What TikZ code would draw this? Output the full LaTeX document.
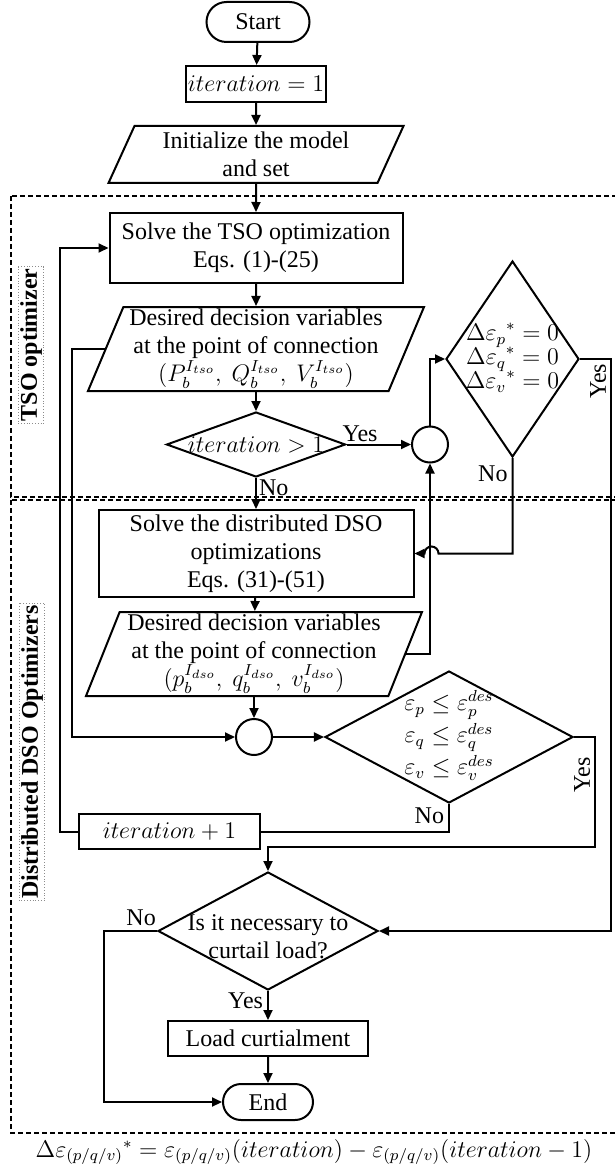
\documentclass[tikz,border=0pt]{standalone}
\usepackage{amsmath, amssymb}
\usepackage{fontspec}
\setmainfont{Liberation Serif}
\usetikzlibrary{positioning, arrows.meta, shapes.geometric, shapes.misc, calc}
\definecolor{FrameGray}{RGB}{140,140,140}
\tikzset{
  terminal/.style={rounded rectangle, draw, minimum height=18pt, inner sep=1pt},
  process/.style={rectangle, draw, align=center, inner sep=1pt},
  io/.style={trapezium, trapezium stretches body, draw, align=center, inner sep=1pt},
  decision/.style={diamond, draw, inner sep=0pt},
  junction/.style={circle, draw, minimum size=18pt, inner sep=0pt},
  flow/.style={-{Triangle[length=5pt,width=4.5pt]}},
  region/.style={dash pattern=on 2.5pt off 1.5pt, line width=1.1pt},
  region label/.style={draw=FrameGray, densely dotted, line width=0.4pt, rotate=90,
    font=\fontsize{12}{14}\selectfont\bfseries, inner sep=1pt}
}

\begin{document}
\begin{tikzpicture}[x=0.5pt, y=-0.5pt, line width=1pt, font=\fontsize{12}{14}\selectfont]
  \clip (0,0) rectangle (615,1166);

  % Dashed regions
  \draw[region] (11,196) rectangle (625,497);
  \draw[region] (11,500) rectangle (625,1133);
  \node[region label] (tsolabel) at (31,345) {TSO optimizer};
  \node[region label] (dsolabel) at (32,752) {Distributed DSO Optimizers};

  % Main column
  \node[terminal, minimum width=53.5pt, minimum height=20pt] (start) at (258,22) {Start};
  \node[process, minimum width=69pt, minimum height=18pt] (init) at (256,84) {$iteration=1$};
  \node[io, trapezium left angle=62, trapezium right angle=118,
    minimum width=147.5pt, minimum height=28.5pt] (model) at (256,154.5) {Initialize the model\\and set};
  \node[process, minimum width=146.5pt, minimum height=35pt] (tso) at (256,248)
    {Solve the TSO optimization\\Eqs. (1)-(25)};
  \node[io, trapezium left angle=67, trapezium right angle=113,
    minimum width=168pt, minimum height=42pt] (tsovars) at (256,349)
    {Desired decision variables\\at the point of connection\\
     $(P_b^{I_{tso}},\ Q_b^{I_{tso}},\ V_b^{I_{tso}})$};
  \node[decision, minimum width=89.5pt, minimum height=32.5pt,
    label={center:$iteration>1$}] (first) at (256,444.5) {};
  \node[junction] (mix1) at (430,444.5) {};
  \node[decision, minimum width=66.5pt, minimum height=98pt,
    label={center:{$\begin{array}{c}{\Delta\varepsilon_p}^*=0\\[-2pt]{\Delta\varepsilon_q}^*=0\\[-2pt]{\Delta\varepsilon_v}^*=0\end{array}$}}]
    (conv) at (512.5,359) {};

  \node[process, minimum width=157.5pt, minimum height=43.5pt] (dso) at (256,553.5)
    {Solve the distributed DSO\\optimizations\\Eqs. (31)-(51)};
  \node[io, trapezium left angle=68, trapezium right angle=112,
    minimum width=168pt, minimum height=42pt] (dsovars) at (254,654)
    {Desired decision variables\\at the point of connection\\
     $(p_b^{I_{dso}},\ q_b^{I_{dso}},\ v_b^{I_{dso}})$};
  \node[junction] (mix2) at (254,737) {};
  \node[decision, minimum width=124pt, minimum height=66pt,
    label={center:{$\begin{array}{c}\varepsilon_p\leq\varepsilon_p^{des}\\[2pt]\varepsilon_q\leq\varepsilon_q^{des}\\[2pt]\varepsilon_v\leq\varepsilon_v^{des}\end{array}$}}]
    (valid) at (449,737) {};
  \node[process, minimum width=90.5pt, minimum height=17.5pt] (next) at (169.5,831.5) {$iteration+1$};

  \node[decision, minimum width=110pt, minimum height=59pt,
    label={[align=center, yshift=-3pt]center:Is it necessary to\\curtail load?}] (need) at (268,931) {};
  \node[process, minimum width=100pt, minimum height=17.5pt] (load) at (268,1038.5) {Load curtialment};
  \node[terminal, minimum width=47pt] (stop) at (268,1102) {End};

  % Note
  \node (note) at (314,1152)
    {$\Delta{\varepsilon_{(p/q/v)}}^{*}=\varepsilon_{(p/q/v)}(iteration)-\varepsilon_{(p/q/v)}(iteration-1)$};

  % Connectors
  \draw[flow] (start) -- (init);
  \draw[flow] (init) -- (model);
  \draw[flow] (model) -- (tso);
  \draw[flow] (tso) -- (tsovars);
  \draw[flow] (tsovars) -- (first);
  \draw[flow] (first) -- node[pos=0.21, above, inner sep=1pt] {Yes} (mix1);
  \draw[flow] (first) -- node[pos=0.3, right, inner sep=1pt] {No} (dso);
  \draw[flow] (mix1.north) |- (conv.west);
  \coordinate (hop) at ($(dso.east)+(24,0)$);
  \draw[flow] (conv.south) |- node[pos=0.08, left, inner sep=2pt] {No} (hop)
    arc[start angle=0, end angle=-180, radius=7] -- (dso.east);
  \draw[flow] (conv.east) -- ++(31,0) node[rotate=90, anchor=south east, inner sep=2pt] {Yes}
    |- (need.east);
  \draw[flow] (dso) -- (dsovars);
  \draw[flow] (dsovars) -- (mix2);
  \draw[flow] (dsovars.east) -| (mix1.south);
  \draw[flow] (tsovars.west) -- ++(-33,0) |- (mix2.west);
  \draw[flow] (mix2) -- (valid);
  \coordinate (yesturn) at (595,847);
  \draw[flow] (valid.east) -| node[pos=0.57, rotate=90, anchor=south east, inner sep=2pt] {Yes}
    (yesturn) -| (need.north);
  \draw (valid.south) |- node[pos=0.22, left, inner sep=2pt] {No} (next.east);
  \draw[flow] (next.west) -- ++(-18,0) |- (tso.west);
  \draw[flow] (need.west) -- node[pos=0.3, above, inner sep=2pt] {No} ++(-53,0) |- (stop.west);
  \draw[flow] (need.south) -- node[pos=0.35, left, inner sep=2pt] {Yes} (load.north);
  \draw[flow] (load) -- (stop);
\end{tikzpicture}
\end{document}
